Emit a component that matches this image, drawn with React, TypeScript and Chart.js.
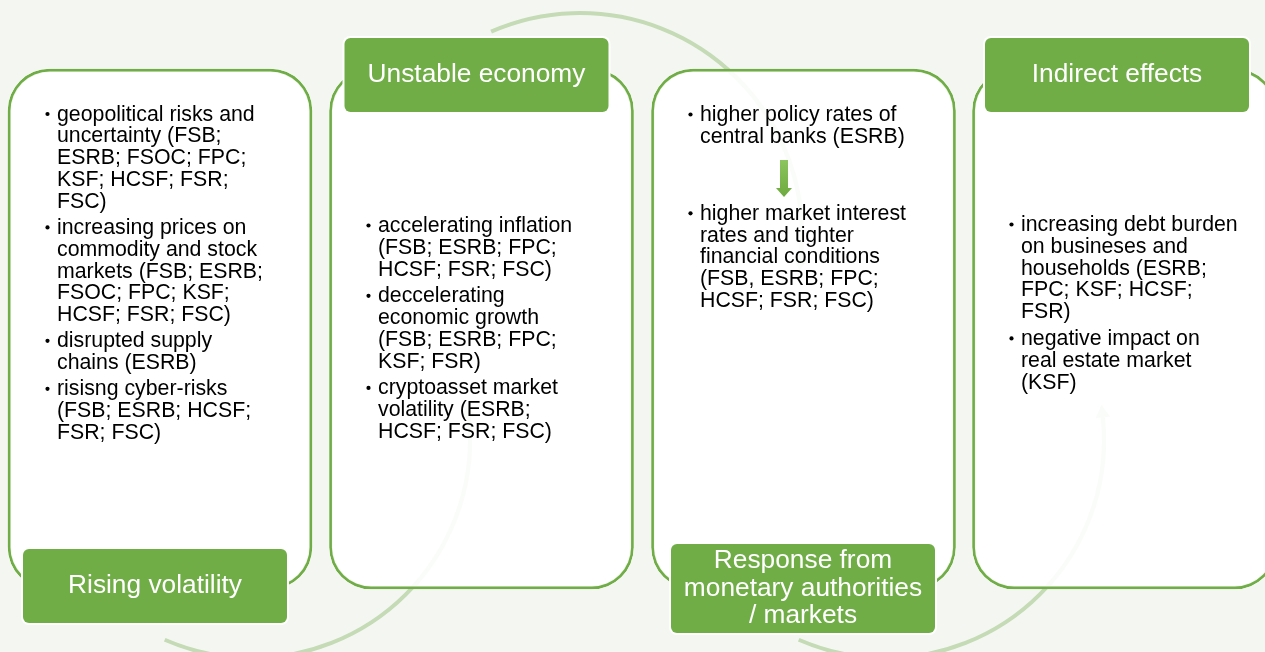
import React, { useEffect, useRef } from "react";
import { Chart, registerables } from "chart.js";

Chart.register(...registerables);

// ---------- content ----------
const TITLE_LINES: string[][] = [
  ["Rising volatility"],
  ["Unstable economy"],
  ["Response from", "monetary authorities", "/ markets"],
  ["Indirect effects"],
];

const BULLETS_1: string[][] = [
  ["geopolitical risks and", "uncertainty (FSB;", "ESRB; FSOC; FPC;", "KSF; HCSF; FSR;", "FSC)"],
  ["increasing prices on", "commodity and stock", "markets (FSB; ESRB;", "FSOC; FPC; KSF;", "HCSF; FSR; FSC)"],
  ["disrupted supply", "chains (ESRB)"],
  ["risisng cyber-risks", "(FSB; ESRB; HCSF;", "FSR; FSC)"],
];
const BULLETS_2: string[][] = [
  ["accelerating inflation", "(FSB; ESRB; FPC;", "HCSF; FSR; FSC)"],
  ["deccelerating", "economic growth", "(FSB; ESRB; FPC;", "KSF; FSR)"],
  ["cryptoasset market", "volatility (ESRB;", "HCSF; FSR; FSC)"],
];
const BULLETS_3: string[][] = [
  ["higher policy rates of", "central banks (ESRB)"],
  ["higher market interest", "rates and tighter", "financial conditions", "(FSB, ESRB; FPC;", "HCSF; FSR; FSC)"],
];
const BULLETS_4: string[][] = [
  ["increasing debt burden", "on busineses and", "households (ESRB;", "FPC; KSF; HCSF;", "FSR)"],
  ["negative impact on", "real estate market", "(KSF)"],
];
const BULLETS = [BULLETS_1, BULLETS_2, BULLETS_3, BULLETS_4];

// ---------- layout (diagram units = pixels of the 1265x652 frame) ----------
const PANEL_X = [160, 481.5, 803.5, 1124.5];
const PANEL_Y = [69, 589];
const PANEL_W = 304;
const TAB_X = [155, 476.5, 803, 1117];
const TAB_W = 268;
const TAB_Y0 = [547, 36, 542, 36];
const TAB_Y1 = [625, 114, 635, 114];
const TEXT_X = [57, 378, 700, 1021];
const TEXT_Y = [115, 226.5, 115.5, 225.5];
const PARA_GAP = [4.4, 4.9, 55.2, 4.9];
const LINE_STEP = 21.8;
const TITLE_STEP = 27.5;
// arcs: center x, center y, radius, start angle (deg), end angle (deg), anticlockwise
const ARC_CX = [252, 580, 886];
const ARC_CY = [440, 235, 440];
const ARC_R = [218, 222, 218];
const ARC_A0 = [113.6, -113.6, 113.6];
const ARC_A1 = [-6, 6, -6];
const ARC_ACW = [true, false, true];
const SMALL_ARROW = { x: 784, y0: 160, y1: 197 };

// ---------- style ----------
const BG = "#F4F7F1";
const GREEN = "#70AD47";
const ARC_COLOR = "#C4DBB6";
const FONT = "'Liberation Sans', Arial, sans-serif";

export default function App() {
  const ref = useRef<HTMLCanvasElement>(null);

  useEffect(() => {
    document.body.style.margin = "0";
    document.body.style.background = BG;
    const canvas = ref.current!;

    const diagramPlugin = {
      id: "diagram",
      beforeDraw(chart: any) {
        const { ctx, width, height } = chart;
        ctx.save();
        ctx.fillStyle = BG;
        ctx.fillRect(0, 0, width, height);
        ctx.restore();
      },
      beforeDatasetsDraw(chart: any) {
        const ctx = chart.ctx;
        const xs = chart.scales.x;
        const ys = chart.scales.y;
        ctx.save();
        ctx.strokeStyle = ARC_COLOR;
        ctx.fillStyle = ARC_COLOR;
        ctx.lineWidth = 4;
        for (let i = 0; i < ARC_CX.length; i++) {
          const cx = xs.getPixelForValue(ARC_CX[i]);
          const cy = ys.getPixelForValue(ARC_CY[i]);
          const r = xs.getPixelForValue(ARC_CX[i] + ARC_R[i]) - cx;
          const a0 = (ARC_A0[i] * Math.PI) / 180;
          const a1 = (ARC_A1[i] * Math.PI) / 180;
          ctx.beginPath();
          ctx.arc(cx, cy, r, a0, a1, ARC_ACW[i]);
          ctx.stroke();
          const ex = cx + r * Math.cos(a1);
          const ey = cy + r * Math.sin(a1);
          const dx = ARC_ACW[i] ? Math.sin(a1) : -Math.sin(a1);
          const dy = ARC_ACW[i] ? -Math.cos(a1) : Math.cos(a1);
          const L = 12, W = 7;
          ctx.beginPath();
          ctx.moveTo(ex + dx * L, ey + dy * L);
          ctx.lineTo(ex - dy * W, ey + dx * W);
          ctx.lineTo(ex + dy * W, ey - dx * W);
          ctx.closePath();
          ctx.fill();
        }
        ctx.restore();
      },
      afterDatasetsDraw(chart: any) {
        const ctx = chart.ctx;
        const xs = chart.scales.x;
        const ys = chart.scales.y;
        ctx.save();
        // title tabs (white outline + green fill)
        TAB_X.forEach((x, i) => {
          const l = xs.getPixelForValue(x - TAB_W / 2);
          const r = xs.getPixelForValue(x + TAB_W / 2);
          const t = ys.getPixelForValue(TAB_Y0[i]);
          const b = ys.getPixelForValue(TAB_Y1[i]);
          ctx.fillStyle = "#FFFFFF";
          ctx.beginPath();
          ctx.roundRect(l, t, r - l, b - t, 8);
          ctx.fill();
          ctx.fillStyle = GREEN;
          ctx.beginPath();
          ctx.roundRect(l + 2, t + 2, r - l - 4, b - t - 4, 6);
          ctx.fill();
        });
        // bullet text
        ctx.font = `21.3px ${FONT}`;
        ctx.textAlign = "left";
        ctx.textBaseline = "alphabetic";
        ctx.fillStyle = "#000";
        BULLETS.forEach((paras, i) => {
          let y = TEXT_Y[i];
          const tx = xs.getPixelForValue(TEXT_X[i]);
          paras.forEach((para, pi) => {
            if (pi > 0) y += PARA_GAP[i];
            const by = ys.getPixelForValue(y);
            ctx.beginPath();
            ctx.arc(tx - 9.5, by - 1, 2.1, 0, Math.PI * 2);
            ctx.fill();
            para.forEach((line) => {
              ctx.fillText(line, tx, ys.getPixelForValue(y) + 5.5);
              y += LINE_STEP;
            });
          });
        });
        // title text
        ctx.font = `26.3px ${FONT}`;
        ctx.textAlign = "center";
        ctx.textBaseline = "middle";
        ctx.fillStyle = "#fff";
        TITLE_LINES.forEach((lines, i) => {
          const cx = xs.getPixelForValue(TAB_X[i]);
          const cy = ys.getPixelForValue((TAB_Y0[i] + TAB_Y1[i]) / 2);
          lines.forEach((line, li) => {
            const off = (li - (lines.length - 1) / 2) * TITLE_STEP;
            ctx.fillText(line, cx, cy + off);
          });
        });
        // small down arrow in panel 3
        const ax = xs.getPixelForValue(SMALL_ARROW.x);
        const ay0 = ys.getPixelForValue(SMALL_ARROW.y0);
        const ay1 = ys.getPixelForValue(SMALL_ARROW.y1);
        const grad = ctx.createLinearGradient(0, ay0, 0, ay1);
        grad.addColorStop(0, "#8CC45E");
        grad.addColorStop(1, "#6DAA3F");
        ctx.fillStyle = grad;
        ctx.beginPath();
        ctx.moveTo(ax - 4, ay0);
        ctx.lineTo(ax + 4, ay0);
        ctx.lineTo(ax + 4, ay1 - 9);
        ctx.lineTo(ax + 8, ay1 - 9);
        ctx.lineTo(ax, ay1);
        ctx.lineTo(ax - 8, ay1 - 9);
        ctx.lineTo(ax - 4, ay1 - 9);
        ctx.closePath();
        ctx.fill();
        ctx.restore();
      },
    };

    const chart = new Chart(canvas, {
      type: "bar",
      data: {
        datasets: [
          {
            label: "panels",
            data: PANEL_X.map((x) => ({ x, y: [PANEL_Y[0], PANEL_Y[1]] })) as any,
            backgroundColor: "rgba(255,255,255,0.9)",
            borderColor: GREEN,
            borderWidth: 2.75,
            borderRadius: 42,
            borderSkipped: false,
            barThickness: PANEL_W,
          },
        ],
      },
      options: {
        responsive: false,
        animation: false,
        events: [],
        layout: { padding: 0 },
        plugins: { legend: { display: false }, tooltip: { enabled: false } },
        scales: {
          x: { type: "linear", min: 0, max: 1265, display: false, offset: false },
          y: { type: "linear", min: 0, max: 652, reverse: true, display: false },
        },
      } as any,
      plugins: [diagramPlugin],
    });
    return () => chart.destroy();
  }, []);

  return (
    <div style={{ width: 1265, height: 652, overflow: "hidden", background: BG }}>
      <canvas ref={ref} width={1265} height={652} style={{ display: "block" }} />
    </div>
  );
}
